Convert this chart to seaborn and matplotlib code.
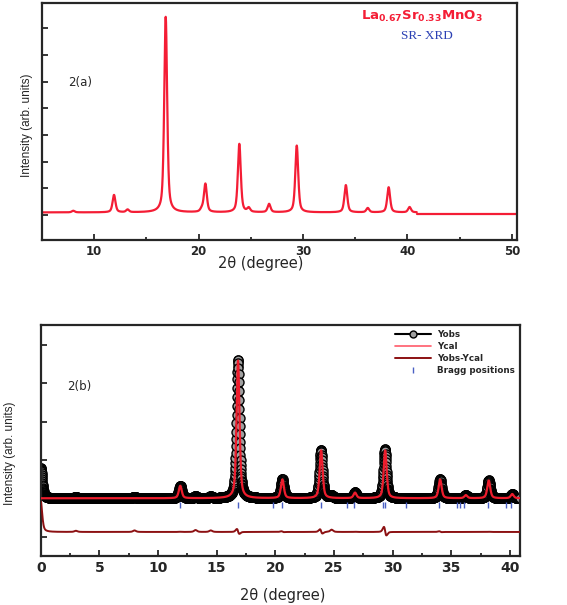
import numpy as np
import matplotlib
matplotlib.use('Agg')
import matplotlib.pyplot as plt
from matplotlib.lines import Line2D
from matplotlib.ticker import MultipleLocator
import seaborn as sns

# ---- panel (a): SR-XRD pattern, peaks ----
a_pos = [8.0, 11.9, 13.2, 16.85, 20.3, 20.65, 23.9, 24.8, 26.75, 29.4, 34.1, 36.2, 38.2, 40.2]
a_height = [0.06, 0.65, 0.1, 7.32, 0.1, 1.06, 2.56, 0.15, 0.31, 2.5, 1.02, 0.16, 0.94, 0.2]
a_base = 0.1
a_tail_x = [40.9, 50.5]
a_tail_y = [0.03, 0.03]

# ---- panel (b): Rietveld refinement ----
b_pos = [0.0, 3.0, 8.0, 11.9, 13.2, 14.5, 16.82, 20.6, 23.9, 24.8, 26.8, 29.35, 34.05, 36.25, 38.2, 40.2]
cal_pos = [0.0, 3.0, 8.0, 11.9, 13.2, 14.5, 16.824, 20.605, 23.91, 24.8, 26.8, 29.37, 34.055, 36.25, 38.2, 40.2]
obs_height = [0.8, 0.03, 0.04, 0.33, 0.05, 0.04, 3.62, 0.5, 1.27, 0.06, 0.15, 1.28, 0.5, 0.08, 0.47, 0.11]
cal_height = [0.0, 0.0, 0.0, 0.325, 0.0, 0.0, 3.6, 0.49, 1.25, 0.0, 0.145, 1.25, 0.49, 0.08, 0.465, 0.11]
b_base = 1.0
diff_offset = 0.12
bragg = [11.88, 16.8, 19.77, 20.55, 23.87, 26.08, 26.7, 29.2, 29.35, 31.14, 34.0,
         35.5, 35.75, 36.08, 38.15, 39.66, 40.06]
bragg_level = 0.82


def pattern(x, pos, height, fwhm, eta=0.55):
    y = np.zeros_like(x)
    for p, h in zip(pos, height):
        g = np.exp(-4 * np.log(2) * ((x - p) / fwhm) ** 2)
        l = 1.0 / (1 + 4 * ((x - p) / fwhm) ** 2)
        y += h * (eta * l + (1 - eta) * g)
    return y


sns.set_style('ticks')
plt.rcParams['font.family'] = ['DejaVu Sans']

red = '#f41d35'
narrow = ['Liberation Sans Narrow', 'Liberation Sans', 'DejaVu Sans']
fig = plt.figure(figsize=(5.67, 6.05), dpi=100)

# ---------------- panel (a) ----------------
ax1 = fig.add_axes([0.074, 0.603, 0.838, 0.392])
xa = np.arange(5, 40.9, 0.01)
ya = a_base + pattern(xa, a_pos, a_height, 0.33)
sns.lineplot(x=xa, y=ya, ax=ax1, color=red, lw=1.6)
ax1.plot(a_tail_x, a_tail_y, color=red, lw=1.6)
ax1.set_xlim(5, 50.5)
ax1.set_ylim(-0.94, 7.94)
ax1.xaxis.set_major_locator(MultipleLocator(10))
ax1.xaxis.set_minor_locator(MultipleLocator(5))
ax1.yaxis.set_major_locator(MultipleLocator(1))
ax1.set_yticklabels([])
ax1.tick_params(axis='both', which='major', direction='in', length=4, width=1.3)
ax1.tick_params(axis='x', which='minor', direction='in', length=2, width=1.3)
for lab in ax1.get_xticklabels():
    lab.set_fontweight('bold')
    lab.set_fontsize(8.5)
ax1.set_xlabel('')
ax1.set_ylabel('')
for s in ax1.spines.values():
    s.set_linewidth(1.6)
    s.set_visible(True)
ax1.text(0.055, 0.65, '2(a)', transform=ax1.transAxes, fontsize=8.5)
ax1.text(0.8, 0.945, r'$\mathbf{La_{0.67}Sr_{0.33}MnO_{3}}$', transform=ax1.transAxes,
         color=red, fontsize=9.5, ha='center', va='center')
ax1.text(0.81, 0.863, 'SR- XRD', transform=ax1.transAxes, color='#2b40b4',
         fontsize=9.5, ha='center', va='center', family=['Liberation Serif', 'DejaVu Serif'])

fig.text(0.459, 0.565, '2θ (degree)', ha='center', va='center', fontsize=10.5)
fig.text(0.047, 0.793, 'Intensity (arb. units)', rotation=90, ha='center', va='center',
         fontsize=8.5, family=narrow)

# ---------------- panel (b) ----------------
ax2 = fig.add_axes([0.0718, 0.0815, 0.845, 0.3815])
xb = np.arange(0, 40.9, 0.015)
y_obs = b_base + pattern(xb, b_pos, obs_height, 0.3)
y_cal = b_base + pattern(xb, cal_pos, cal_height, 0.3)
y_diff = y_obs - y_cal + diff_offset

ax2.plot(xb, y_obs, color='black', lw=1.5, marker='o', ms=6.5, mfc='#a0a0a0',
         mec='black', mew=1.0, zorder=2)
sns.lineplot(x=xb, y=y_cal, ax=ax2, color='#ee1c2c', lw=1.6, zorder=3)
sns.lineplot(x=xb, y=y_diff, ax=ax2, color='#8c1012', lw=1.4, zorder=3)
ax2.plot(bragg, [bragg_level] * len(bragg), ls='none', marker='|', ms=4,
         mew=1.0, color='#4a60c4', zorder=3)

ax2.set_xlim(0, 40.85)
ax2.set_ylim(-0.5, 5.53)
ax2.xaxis.set_major_locator(MultipleLocator(5))
ax2.xaxis.set_minor_locator(MultipleLocator(2.5))
ax2.set_yticks([0, 1, 2, 3, 4, 5])
ax2.set_yticklabels([])
ax2.tick_params(axis='both', which='major', direction='in', length=4, width=1.3)
ax2.tick_params(axis='x', which='minor', direction='in', length=2, width=1.3)
for lab in ax2.get_xticklabels():
    lab.set_fontweight('bold')
    lab.set_fontsize(10)
ax2.set_xlabel('')
ax2.set_ylabel('')
for s in ax2.spines.values():
    s.set_linewidth(1.6)
    s.set_visible(True)
ax2.text(0.055, 0.72, '2(b)', transform=ax2.transAxes, fontsize=8.5)

handles = [
    Line2D([], [], color='black', lw=1.5, marker='o', ms=5, mfc='#a0a0a0', mec='black'),
    Line2D([], [], color='#ff5a6a', lw=1.2),
    Line2D([], [], color='#8c1012', lw=1.4),
    Line2D([], [], ls='none', marker='|', ms=4, mew=1.0, color='#4a60c4'),
]
ax2.legend(handles, ['Yobs', 'Ycal', 'Yobs-Ycal', 'Bragg positions'], loc='upper right',
           frameon=False, prop={'weight': 'bold', 'size': 6.3}, handlelength=4.2,
           labelspacing=0.35, borderaxespad=0.2, handletextpad=0.6)

fig.text(0.499, 0.0165, '2θ (degree)', ha='center', va='center', fontsize=10.5)
fig.text(0.017, 0.251, 'Intensity (arb. units)', rotation=90, ha='center', va='center',
         fontsize=8.5, family=narrow)

fig.savefig('out.png', dpi=100)
